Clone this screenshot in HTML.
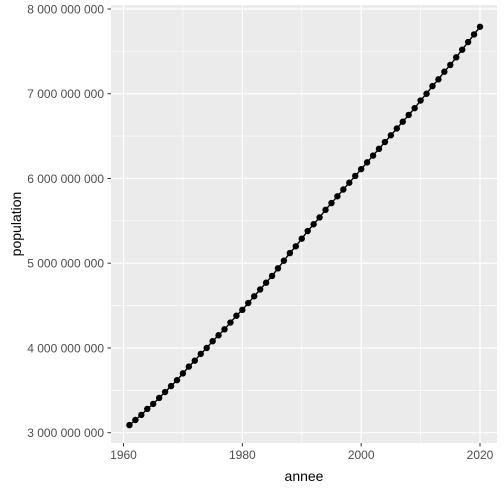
<!DOCTYPE html>
<html><head><meta charset="utf-8"><style>
body{margin:0;background:#fff}
svg{display:block;font-family:"Liberation Sans",Arial,sans-serif}
</style></head><body>
<svg id="chart" width="504" height="489">
<rect x="0" y="0" width="504" height="489" fill="#fff"/>
<rect x="111" y="5" width="386" height="438" fill="#ebebeb"/>
<g id="grid"></g><g id="axes"></g><g id="marks"></g>
<text x="304" y="481" text-anchor="middle" font-size="14" fill="#000">annee</text>
<text transform="translate(21,224) rotate(-90)" text-anchor="middle" font-size="14" fill="#000">population</text>
</svg>
<script>
const years = [1961,1962,1963,1964,1965,1966,1967,1968,1969,1970,1971,1972,1973,1974,1975,1976,1977,1978,1979,1980,1981,1982,1983,1984,1985,1986,1987,1988,1989,1990,1991,1992,1993,1994,1995,1996,1997,1998,1999,2000,2001,2002,2003,2004,2005,2006,2007,2008,2009,2010,2011,2012,2013,2014,2015,2016,2017,2018,2019,2020];
const populationBillions = [3.09,3.15,3.21,3.28,3.34,3.41,3.48,3.55,3.62,3.70,3.78,3.85,3.93,4.00,4.08,4.15,4.22,4.30,4.38,4.45,4.53,4.61,4.69,4.77,4.85,4.94,5.03,5.12,5.20,5.29,5.38,5.46,5.54,5.63,5.71,5.79,5.87,5.95,6.03,6.11,6.19,6.27,6.35,6.43,6.51,6.59,6.67,6.75,6.83,6.92,7.00,7.09,7.17,7.26,7.34,7.43,7.52,7.61,7.70,7.79];
const xTicks = [1960,1980,2000,2020];
const yTicks = [3,4,5,6,7,8];
const yTickLabels = ["3 000 000 000","4 000 000 000","5 000 000 000","6 000 000 000","7 000 000 000","8 000 000 000"];
const NS="http://www.w3.org/2000/svg";
const X = v => 123.5 + (v-1960)*(480-123.5)/60;
const Y = v => 432.7 - (v-3)*(432.7-9)/5;
const grid=document.getElementById('grid'), axes=document.getElementById('axes'), marks=document.getElementById('marks');
function mk(tag,attrs,parent){const e=document.createElementNS(NS,tag);for(const k in attrs)e.setAttribute(k,attrs[k]);parent.appendChild(e);return e;}
for(let i=0;i<xTicks.length-1;i++){const m=(xTicks[i]+xTicks[i+1])/2;
 const l=mk('line',{x1:X(m),x2:X(m),y1:5,y2:443,stroke:'#fff','stroke-width':0.6},grid);
 
 }
for(let i=0;i<yTicks.length-1;i++){const m=(yTicks[i]+yTicks[i+1])/2;
 const l=mk('line',{x1:111,x2:497,y1:Y(m),y2:Y(m),stroke:'#fff','stroke-width':0.6},grid);
 
 }
xTicks.forEach(t=>{
 const l=mk('line',{x1:X(t),x2:X(t),y1:5,y2:443,stroke:'#fff','stroke-width':1.2},grid);
 
 
 const tk=mk('line',{x1:X(t),x2:X(t),y1:443,y2:446.5,stroke:'#333','stroke-width':1},axes);
 
 
 const tx=mk('text',{x:X(t),y:459,'text-anchor':'middle','font-size':12,fill:'#4d4d4d'},axes);
 tx.textContent=t;
 
 
});
yTicks.forEach((t,i)=>{
 const l=mk('line',{x1:111,x2:497,y1:Y(t),y2:Y(t),stroke:'#fff','stroke-width':1.2},grid);
 
 
 const tk=mk('line',{x1:107.5,x2:111,y1:Y(t),y2:Y(t),stroke:'#333','stroke-width':1},axes);
 
 
 const tx=mk('text',{x:104,y:Y(t)+4.5,'text-anchor':'end','font-size':12,fill:'#4d4d4d'},axes);
 tx.textContent=yTickLabels[i];
 
 
});
const pts=years.map((yr,i)=>X(yr)+','+Y(populationBillions[i])).join(' ');
const pl=mk('polyline',{points:pts,fill:'none',stroke:'#000','stroke-width':1.4},marks);


years.forEach((yr,i)=>{
 const c=mk('circle',{cx:X(yr),cy:Y(populationBillions[i]),r:3.2,fill:'#000'},marks);
 
 
});
</script>
</body></html>
